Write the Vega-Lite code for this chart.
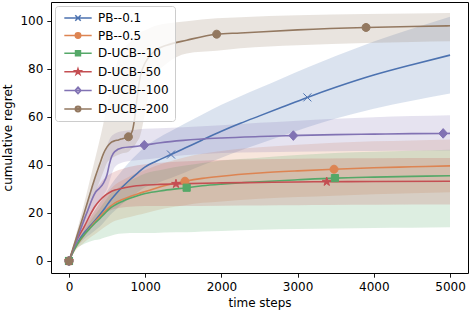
{
  "$schema": "https://vega.github.io/schema/vega-lite/v6.json",
  "autosize": {"type": "none"},
  "padding": {"left": 51, "right": 2, "top": 2, "bottom": 39},
  "width": 417,
  "height": 271,
  "datasets": {
    "curves": [
      {"s":"PB--0.1","t":0,"y":0,"lo":0,"hi":0},
      {"s":"PB--0.1","t":50,"y":3.8,"lo":3.2,"hi":4.4},
      {"s":"PB--0.1","t":100,"y":6.8,"lo":5.5,"hi":8.1},
      {"s":"PB--0.1","t":150,"y":9.6,"lo":7.6,"hi":11.6},
      {"s":"PB--0.1","t":200,"y":11.8,"lo":9.2,"hi":14.4},
      {"s":"PB--0.1","t":276,"y":14.5,"lo":11,"hi":18},
      {"s":"PB--0.1","t":350,"y":17.2,"lo":12.9,"hi":21.5},
      {"s":"PB--0.1","t":407,"y":19.4,"lo":14.4,"hi":24.4},
      {"s":"PB--0.1","t":475,"y":22.2,"lo":16.7,"hi":27.7},
      {"s":"PB--0.1","t":538,"y":25,"lo":19,"hi":31},
      {"s":"PB--0.1","t":604,"y":27.5,"lo":21,"hi":34},
      {"s":"PB--0.1","t":700,"y":30.8,"lo":23.8,"hi":37.8},
      {"s":"PB--0.1","t":778,"y":33.2,"lo":25.7,"hi":40.7},
      {"s":"PB--0.1","t":900,"y":36.6,"lo":28.6,"hi":44.6},
      {"s":"PB--0.1","t":1000,"y":39.2,"lo":30.7,"hi":47.7},
      {"s":"PB--0.1","t":1150,"y":41.6,"lo":32.4,"hi":50.8},
      {"s":"PB--0.1","t":1339,"y":44.3,"lo":34.5,"hi":54.1},
      {"s":"PB--0.1","t":1522,"y":47,"lo":36.8,"hi":57.2},
      {"s":"PB--0.1","t":1750,"y":50.4,"lo":39.8,"hi":61},
      {"s":"PB--0.1","t":2000,"y":54,"lo":43,"hi":65},
      {"s":"PB--0.1","t":2250,"y":57.3,"lo":46,"hi":68.6},
      {"s":"PB--0.1","t":2500,"y":60.4,"lo":48.8,"hi":72},
      {"s":"PB--0.1","t":2800,"y":64.1,"lo":52.1,"hi":76.1},
      {"s":"PB--0.1","t":3128,"y":68.1,"lo":55.7,"hi":80.5},
      {"s":"PB--0.1","t":3500,"y":72.3,"lo":59.3,"hi":85.3},
      {"s":"PB--0.1","t":4000,"y":77.4,"lo":63.4,"hi":91.4},
      {"s":"PB--0.1","t":4500,"y":81.7,"lo":66.7,"hi":96.7},
      {"s":"PB--0.1","t":5000,"y":85.7,"lo":69.7,"hi":101.7},

      {"s":"PB--0.5","t":0,"y":0,"lo":0,"hi":0},
      {"s":"PB--0.5","t":50,"y":3.5,"lo":2.7,"hi":4.3},
      {"s":"PB--0.5","t":100,"y":6.5,"lo":4.9,"hi":8.1},
      {"s":"PB--0.5","t":150,"y":8.7,"lo":6.3,"hi":11.1},
      {"s":"PB--0.5","t":232,"y":12.2,"lo":8.6,"hi":15.8},
      {"s":"PB--0.5","t":300,"y":14.8,"lo":10.3,"hi":19.3},
      {"s":"PB--0.5","t":363,"y":17,"lo":11.7,"hi":22.3},
      {"s":"PB--0.5","t":450,"y":19.9,"lo":13.7,"hi":26.1},
      {"s":"PB--0.5","t":538,"y":22.6,"lo":15.6,"hi":29.6},
      {"s":"PB--0.5","t":604,"y":24.2,"lo":16.7,"hi":31.7},
      {"s":"PB--0.5","t":700,"y":25.6,"lo":17.6,"hi":33.6},
      {"s":"PB--0.5","t":800,"y":26.8,"lo":18.3,"hi":35.3},
      {"s":"PB--0.5","t":900,"y":27.9,"lo":19.1,"hi":36.7},
      {"s":"PB--0.5","t":1000,"y":28.9,"lo":19.9,"hi":37.9},
      {"s":"PB--0.5","t":1250,"y":31.3,"lo":21.8,"hi":40.8},
      {"s":"PB--0.5","t":1522,"y":33.2,"lo":23.2,"hi":43.2},
      {"s":"PB--0.5","t":1750,"y":34.4,"lo":24.2,"hi":44.6},
      {"s":"PB--0.5","t":2000,"y":35.3,"lo":24.8,"hi":45.8},
      {"s":"PB--0.5","t":2500,"y":36.6,"lo":25.9,"hi":47.3},
      {"s":"PB--0.5","t":3000,"y":37.5,"lo":26.6,"hi":48.4},
      {"s":"PB--0.5","t":3478,"y":38.2,"lo":27.2,"hi":49.2},
      {"s":"PB--0.5","t":4000,"y":38.8,"lo":27.8,"hi":49.8},
      {"s":"PB--0.5","t":4500,"y":39.2,"lo":28.2,"hi":50.2},
      {"s":"PB--0.5","t":5000,"y":39.6,"lo":28.6,"hi":50.6},

      {"s":"D-UCB--10","t":0,"y":0,"lo":0,"hi":0},
      {"s":"D-UCB--10","t":50,"y":3.5,"lo":3,"hi":3.8},
      {"s":"D-UCB--10","t":100,"y":6.5,"lo":5.3,"hi":7.1},
      {"s":"D-UCB--10","t":144,"y":8.7,"lo":6.2,"hi":10},
      {"s":"D-UCB--10","t":210,"y":11.3,"lo":7.3,"hi":13.3},
      {"s":"D-UCB--10","t":276,"y":13.6,"lo":8.1,"hi":16.4},
      {"s":"D-UCB--10","t":340,"y":15.7,"lo":8.7,"hi":19.2},
      {"s":"D-UCB--10","t":407,"y":17.7,"lo":9.1,"hi":22},
      {"s":"D-UCB--10","t":470,"y":19.8,"lo":9.8,"hi":24.8},
      {"s":"D-UCB--10","t":538,"y":21.9,"lo":10.4,"hi":27.7},
      {"s":"D-UCB--10","t":604,"y":23.3,"lo":11,"hi":29.5},
      {"s":"D-UCB--10","t":700,"y":24.8,"lo":11.4,"hi":31.5},
      {"s":"D-UCB--10","t":800,"y":26.1,"lo":11.6,"hi":33.4},
      {"s":"D-UCB--10","t":900,"y":27.2,"lo":11.7,"hi":35},
      {"s":"D-UCB--10","t":1000,"y":28.1,"lo":11.6,"hi":36.4},
      {"s":"D-UCB--10","t":1250,"y":29.4,"lo":11.9,"hi":38.2},
      {"s":"D-UCB--10","t":1544,"y":30.5,"lo":12,"hi":39.8},
      {"s":"D-UCB--10","t":1750,"y":31.3,"lo":12.3,"hi":40.8},
      {"s":"D-UCB--10","t":2000,"y":32,"lo":12.5,"hi":41.8},
      {"s":"D-UCB--10","t":2500,"y":33,"lo":13,"hi":43},
      {"s":"D-UCB--10","t":3000,"y":33.8,"lo":13.3,"hi":44.1},
      {"s":"D-UCB--10","t":3490,"y":34.5,"lo":13.5,"hi":45},
      {"s":"D-UCB--10","t":4000,"y":34.9,"lo":13.7,"hi":45.5},
      {"s":"D-UCB--10","t":4500,"y":35.2,"lo":13.8,"hi":45.9},
      {"s":"D-UCB--10","t":5000,"y":35.5,"lo":14,"hi":46.3},

      {"s":"D-UCB--50","t":0,"y":0,"lo":0,"hi":0},
      {"s":"D-UCB--50","t":50,"y":4.5,"lo":3.5,"hi":5.5},
      {"s":"D-UCB--50","t":100,"y":8.7,"lo":6.7,"hi":10.7},
      {"s":"D-UCB--50","t":150,"y":11.5,"lo":8.5,"hi":14.5},
      {"s":"D-UCB--50","t":200,"y":14.3,"lo":10.3,"hi":18.3},
      {"s":"D-UCB--50","t":276,"y":19.1,"lo":13.9,"hi":24.3},
      {"s":"D-UCB--50","t":340,"y":22.7,"lo":16.5,"hi":28.9},
      {"s":"D-UCB--50","t":400,"y":25.1,"lo":18.3,"hi":31.9},
      {"s":"D-UCB--50","t":470,"y":27.2,"lo":19.9,"hi":34.5},
      {"s":"D-UCB--50","t":538,"y":28.6,"lo":21,"hi":36.2},
      {"s":"D-UCB--50","t":604,"y":29.5,"lo":21.7,"hi":37.3},
      {"s":"D-UCB--50","t":700,"y":30.3,"lo":22.3,"hi":38.3},
      {"s":"D-UCB--50","t":800,"y":30.9,"lo":22.6,"hi":39.2},
      {"s":"D-UCB--50","t":1000,"y":31.6,"lo":22.9,"hi":40.3},
      {"s":"D-UCB--50","t":1200,"y":31.9,"lo":22.9,"hi":40.9},
      {"s":"D-UCB--50","t":1404,"y":32.1,"lo":22.9,"hi":41.3},
      {"s":"D-UCB--50","t":2000,"y":32.5,"lo":23,"hi":42},
      {"s":"D-UCB--50","t":2500,"y":32.7,"lo":23.1,"hi":42.3},
      {"s":"D-UCB--50","t":3000,"y":32.9,"lo":23.2,"hi":42.6},
      {"s":"D-UCB--50","t":3382,"y":33,"lo":23.3,"hi":42.7},
      {"s":"D-UCB--50","t":4000,"y":33.1,"lo":23.4,"hi":42.8},
      {"s":"D-UCB--50","t":5000,"y":33.2,"lo":23.5,"hi":42.9},

      {"s":"D-UCB--100","t":0,"y":0,"lo":0,"hi":0},
      {"s":"D-UCB--100","t":50,"y":4.3,"lo":3.5,"hi":5.2},
      {"s":"D-UCB--100","t":100,"y":8.5,"lo":7,"hi":10},
      {"s":"D-UCB--100","t":150,"y":13,"lo":11,"hi":15},
      {"s":"D-UCB--100","t":200,"y":17.3,"lo":14.5,"hi":20.5},
      {"s":"D-UCB--100","t":250,"y":21.3,"lo":17.5,"hi":25.5},
      {"s":"D-UCB--100","t":300,"y":25.5,"lo":20,"hi":31},
      {"s":"D-UCB--100","t":350,"y":28.7,"lo":22.5,"hi":35},
      {"s":"D-UCB--100","t":400,"y":30.3,"lo":25,"hi":38.5},
      {"s":"D-UCB--100","t":450,"y":32.3,"lo":27.5,"hi":43},
      {"s":"D-UCB--100","t":500,"y":36,"lo":30,"hi":48},
      {"s":"D-UCB--100","t":530,"y":40.3,"lo":33,"hi":50.5},
      {"s":"D-UCB--100","t":560,"y":43.5,"lo":36,"hi":52},
      {"s":"D-UCB--100","t":600,"y":45.5,"lo":39,"hi":53},
      {"s":"D-UCB--100","t":700,"y":47.1,"lo":41,"hi":54},
      {"s":"D-UCB--100","t":850,"y":47.6,"lo":41.8,"hi":54.5},
      {"s":"D-UCB--100","t":988,"y":48.2,"lo":42.2,"hi":55},
      {"s":"D-UCB--100","t":1200,"y":49.2,"lo":43,"hi":55.3},
      {"s":"D-UCB--100","t":1500,"y":50.2,"lo":44,"hi":55.7},
      {"s":"D-UCB--100","t":2000,"y":51.2,"lo":45,"hi":56.5},
      {"s":"D-UCB--100","t":2500,"y":51.8,"lo":45.3,"hi":57.5},
      {"s":"D-UCB--100","t":2944,"y":52.2,"lo":45.5,"hi":58.3},
      {"s":"D-UCB--100","t":3500,"y":52.6,"lo":45.7,"hi":59.2},
      {"s":"D-UCB--100","t":4000,"y":52.8,"lo":45.8,"hi":59.8},
      {"s":"D-UCB--100","t":4500,"y":53,"lo":45.9,"hi":60.3},
      {"s":"D-UCB--100","t":5000,"y":53.1,"lo":46,"hi":60.7},

      {"s":"D-UCB--200","t":0,"y":0,"lo":0,"hi":0},
      {"s":"D-UCB--200","t":50,"y":5,"lo":4,"hi":6},
      {"s":"D-UCB--200","t":100,"y":10,"lo":8,"hi":12},
      {"s":"D-UCB--200","t":200,"y":20,"lo":16,"hi":24},
      {"s":"D-UCB--200","t":300,"y":30.5,"lo":25,"hi":37},
      {"s":"D-UCB--200","t":350,"y":35.5,"lo":29,"hi":43.5},
      {"s":"D-UCB--200","t":400,"y":40,"lo":33,"hi":50},
      {"s":"D-UCB--200","t":450,"y":44.5,"lo":37,"hi":57},
      {"s":"D-UCB--200","t":500,"y":47.5,"lo":41,"hi":65},
      {"s":"D-UCB--200","t":550,"y":49.3,"lo":42.5,"hi":72},
      {"s":"D-UCB--200","t":600,"y":50,"lo":43.5,"hi":79},
      {"s":"D-UCB--200","t":650,"y":50.4,"lo":44.2,"hi":84.5},
      {"s":"D-UCB--200","t":700,"y":50.9,"lo":44.8,"hi":87.5},
      {"s":"D-UCB--200","t":780,"y":51.7,"lo":45.5,"hi":90.5},
      {"s":"D-UCB--200","t":830,"y":54,"lo":47,"hi":92},
      {"s":"D-UCB--200","t":860,"y":59,"lo":48,"hi":93},
      {"s":"D-UCB--200","t":890,"y":67,"lo":49.5,"hi":94},
      {"s":"D-UCB--200","t":930,"y":76,"lo":51.7,"hi":95},
      {"s":"D-UCB--200","t":1000,"y":82.5,"lo":62,"hi":96},
      {"s":"D-UCB--200","t":1063,"y":85.5,"lo":72.5,"hi":97},
      {"s":"D-UCB--200","t":1150,"y":88,"lo":78,"hi":98},
      {"s":"D-UCB--200","t":1282,"y":89.8,"lo":82.2,"hi":98.8},
      {"s":"D-UCB--200","t":1545,"y":91.9,"lo":86.4,"hi":99.8},
      {"s":"D-UCB--200","t":1938,"y":94.4,"lo":87.5,"hi":101},
      {"s":"D-UCB--200","t":2250,"y":94.9,"lo":88.5,"hi":101.5},
      {"s":"D-UCB--200","t":3000,"y":96.2,"lo":89.8,"hi":102.3},
      {"s":"D-UCB--200","t":3898,"y":97.2,"lo":90.7,"hi":102.8},
      {"s":"D-UCB--200","t":4500,"y":97.6,"lo":91.2,"hi":103},
      {"s":"D-UCB--200","t":5000,"y":97.9,"lo":91.5,"hi":103.2}
    ],
    "markers": [
      {"s":"PB--0.1","t":0,"y":0},
      {"s":"PB--0.1","t":1339,"y":44.3},
      {"s":"PB--0.1","t":3128,"y":68.1},
      {"s":"PB--0.5","t":0,"y":0},
      {"s":"PB--0.5","t":1522,"y":33.2},
      {"s":"PB--0.5","t":3478,"y":38.2},
      {"s":"D-UCB--10","t":0,"y":0},
      {"s":"D-UCB--10","t":1544,"y":30.5},
      {"s":"D-UCB--10","t":3490,"y":34.5},
      {"s":"D-UCB--50","t":0,"y":0},
      {"s":"D-UCB--50","t":1404,"y":32.1},
      {"s":"D-UCB--50","t":3382,"y":33},
      {"s":"D-UCB--100","t":0,"y":0},
      {"s":"D-UCB--100","t":988,"y":48.2},
      {"s":"D-UCB--100","t":2944,"y":52.2},
      {"s":"D-UCB--100","t":4910,"y":53.1},
      {"s":"D-UCB--200","t":0,"y":0},
      {"s":"D-UCB--200","t":780,"y":51.7},
      {"s":"D-UCB--200","t":1938,"y":94.4},
      {"s":"D-UCB--200","t":3898,"y":97.2}
    ]
  },
  "resolve": {"scale": {"shape": "independent", "fill": "independent", "stroke": "independent"}},
  "layer": [
    {
      "data": {"name": "curves"},
      "mark": {"type": "area", "interpolate": "monotone", "opacity": 0.2},
      "encoding": {
        "x": {"field": "t", "type": "quantitative", "title": "time steps", "scale": {"domain": [-236, 5236], "nice": false, "zero": false},
              "axis": {"values": [0, 1000, 2000, 3000, 4000, 5000], "format": "d"}},
        "y": {"field": "lo", "type": "quantitative", "title": "cumulative regret", "scale": {"domain": [-5, 107.8], "nice": false, "zero": false},
              "axis": {"values": [0, 20, 40, 60, 80, 100], "format": "d"}},
        "y2": {"field": "hi"},
        "color": {"field": "s", "type": "nominal", "legend": null,
                  "scale": {"domain": ["PB--0.1","PB--0.5","D-UCB--10","D-UCB--50","D-UCB--100","D-UCB--200"],
                            "range": ["#4C72B0","#DD8452","#55A868","#C44E52","#8172B3","#937860"]}},
        "detail": {"field": "s"}
      }
    },
    {
      "data": {"name": "curves"},
      "mark": {"type": "line", "interpolate": "monotone", "strokeWidth": 1.6},
      "encoding": {
        "x": {"field": "t", "type": "quantitative", "title": "time steps"},
        "y": {"field": "y", "type": "quantitative", "title": "cumulative regret"},
        "color": {"field": "s", "type": "nominal", "legend": null}
      }
    },
    {
      "data": {"name": "markers"},
      "mark": {"type": "point", "filled": true, "size": 64, "strokeWidth": 1, "opacity": 1},
      "encoding": {
        "x": {"field": "t", "type": "quantitative", "title": "time steps"},
        "y": {"field": "y", "type": "quantitative", "title": "cumulative regret"},
        "shape": {"field": "s", "type": "nominal", "legend": null,
                  "scale": {"domain": ["PB--0.1","PB--0.5","D-UCB--10","D-UCB--50","D-UCB--100","D-UCB--200"],
                            "range": ["M-1,-1L1,1M-1,1L1,-1",
                                      "M-1,0A1,1,0,1,1,1,0A1,1,0,1,1,-1,0Z",
                                      "M-0.9,-0.9L0.9,-0.9L0.9,0.9L-0.9,0.9Z",
                                      "M0,-1.15L0.257,-0.354L1.094,-0.355L0.416,0.135L0.676,0.93L0,0.437L-0.676,0.93L-0.416,0.135L-1.094,-0.355L-0.257,-0.354Z",
                                      "M0,-1.2L1.1,0L0,1.2L-1.1,0Z",
                                      "M-1,0A1,1,0,1,1,1,0A1,1,0,1,1,-1,0ZM-0.7,-0.7L0.7,0.7M-0.7,0.7L0.7,-0.7"]}},
        "fill": {"field": "s", "type": "nominal", "legend": null,
                 "scale": {"domain": ["PB--0.1","PB--0.5","D-UCB--10","D-UCB--50","D-UCB--100","D-UCB--200"],
                           "range": ["#4C72B0","#DD8452","#55A868","#C44E52","#8172B3","#937860"]}},
        "stroke": {"field": "s", "type": "nominal", "legend": null,
                   "scale": {"domain": ["PB--0.1","PB--0.5","D-UCB--10","D-UCB--50","D-UCB--100","D-UCB--200"],
                             "range": ["#4C72B0","#DD8452","#55A868","#C44E52","#8172B3","#937860"]}},
        "fillOpacity": {"field": "s", "type": "nominal", "legend": null,
                        "scale": {"domain": ["PB--0.1","PB--0.5","D-UCB--10","D-UCB--50","D-UCB--100","D-UCB--200"],
                                  "range": [1, 1, 1, 1, 0.45, 0.45]}}
      }
    },
    {
      "data": {"name": "markers"},
      "mark": {"type": "point", "filled": true, "size": 30, "strokeWidth": 1.5, "opacity": 0},
      "encoding": {
        "x": {"field": "t", "type": "quantitative", "title": "time steps"},
        "y": {"field": "y", "type": "quantitative", "title": "cumulative regret"},
        "shape": {"field": "s", "type": "nominal",
                  "scale": {"domain": ["PB--0.1","PB--0.5","D-UCB--10","D-UCB--50","D-UCB--100","D-UCB--200"],
                            "range": ["M-5,0L5,0M-1,-1L1,1M-1,1L1,-1",
                                      "M-5,0L5,0M-1,0A1,1,0,1,1,1,0A1,1,0,1,1,-1,0Z",
                                      "M-5,0L5,0M-0.9,-0.9L0.9,-0.9L0.9,0.9L-0.9,0.9Z",
                                      "M-5,0L5,0M0,-1.15L0.257,-0.354L1.094,-0.355L0.416,0.135L0.676,0.93L0,0.437L-0.676,0.93L-0.416,0.135L-1.094,-0.355L-0.257,-0.354Z",
                                      "M-5,0L5,0M0,-1.2L1.1,0L0,1.2L-1.1,0Z",
                                      "M-5,0L5,0M-1,0A1,1,0,1,1,1,0A1,1,0,1,1,-1,0ZM-0.7,-0.7L0.7,0.7M-0.7,0.7L0.7,-0.7"]},
                  "legend": {"title": null, "orient": "top-left", "offset": 4, "symbolSize": 30, "symbolStrokeWidth": 1.5, "symbolOpacity": 1, "symbolOffset": 11, "labelOffset": 14, "padding": 6, "rowPadding": 5.6}},
        "fill": {"field": "s", "type": "nominal",
                 "scale": {"domain": ["PB--0.1","PB--0.5","D-UCB--10","D-UCB--50","D-UCB--100","D-UCB--200"],
                           "range": ["#4C72B0","#DD8452","#55A868","#C44E52","#C0B8D9","#C9BCAF"]},
                 "legend": {"title": null, "orient": "top-left", "offset": 4, "symbolSize": 30, "symbolStrokeWidth": 1.5, "symbolOpacity": 1, "symbolOffset": 11, "labelOffset": 14, "padding": 6, "rowPadding": 5.6}},
        "stroke": {"field": "s", "type": "nominal",
                   "scale": {"domain": ["PB--0.1","PB--0.5","D-UCB--10","D-UCB--50","D-UCB--100","D-UCB--200"],
                             "range": ["#4C72B0","#DD8452","#55A868","#C44E52","#8172B3","#937860"]},
                   "legend": {"title": null, "orient": "top-left", "offset": 4, "symbolSize": 30, "symbolStrokeWidth": 1.5, "symbolOpacity": 1, "symbolOffset": 11, "labelOffset": 14, "padding": 6, "rowPadding": 5.6}}
      }
    }
  ],
  "config": {
    "font": "DejaVu Sans",
    "background": "#ffffff",
    "view": {"stroke": "#000000", "strokeWidth": 1},
    "axis": {
      "domain": false, "grid": false, "ticks": true,
      "tickColor": "#000000", "tickSize": 4.2, "tickWidth": 0.9,
      "labelFont": "DejaVu Sans", "labelFontSize": 12, "labelColor": "#000000", "labelPadding": 4,
      "titleFont": "DejaVu Sans", "titleFontSize": 12, "titleFontWeight": "normal", "titleColor": "#000000",
      "labelFlush": false, "labelOverlap": false
    },
    "axisX": {"titlePadding": 5},
    "axisY": {"titlePadding": 5},
    "legend": {
      "labelFont": "DejaVu Sans", "labelFontSize": 12, "labelColor": "#000000",
      "strokeColor": "#cccccc", "fillColor": "rgba(255,255,255,0.8)", "cornerRadius": 3
    }
  }
}
